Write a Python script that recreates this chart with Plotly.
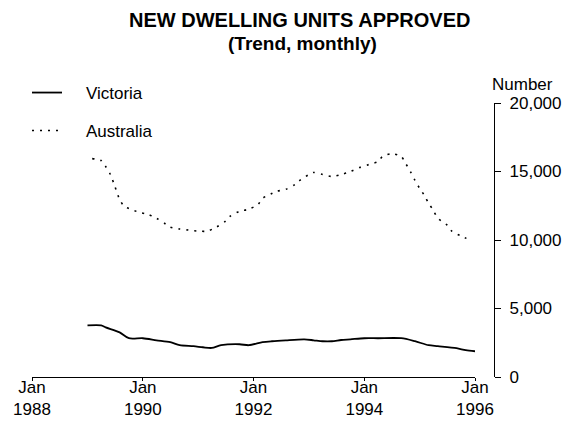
import plotly.graph_objects as go

# Australia (trend, monthly)
aus_dates = ["1989-02-01","1989-04-01","1989-05-01","1989-06-01","1989-07-01","1989-08-01",
             "1989-09-01","1989-11-01","1989-12-01","1990-02-01","1990-04-01","1990-06-01",
             "1990-07-01","1990-09-01","1990-11-01","1991-01-01","1991-03-01","1991-05-01",
             "1991-07-01","1991-08-01","1991-10-01","1991-12-01","1992-02-01","1992-03-01",
             "1992-05-01","1992-06-01","1992-08-01","1992-10-01","1992-11-01","1993-01-01",
             "1993-02-01","1993-04-01","1993-06-01","1993-08-01","1993-10-01","1993-12-01",
             "1994-02-01","1994-04-01","1994-05-01","1994-07-01","1994-09-01","1994-10-01",
             "1994-11-01","1994-12-01","1995-01-01","1995-02-01","1995-03-01","1995-04-01",
             "1995-05-01","1995-07-01","1995-08-01","1995-10-01","1995-12-01"]
aus_values = [15940,15800,15360,14780,13900,12970,
              12460,12170,12030,11880,11590,11160,
              10940,10800,10720,10650,10650,10940,
              11380,11740,12100,12250,12610,13040,
              13400,13550,13700,14060,14350,14780,
              14930,14780,14640,14780,15000,15290,
              15510,15720,16090,16300,16090,15580,
              15000,14350,13770,13260,12680,12170,
              11590,11090,10650,10290,10000]

# Victoria (trend, monthly)
vic_dates = ["1989-01-01","1989-04-01","1989-05-01","1989-08-01","1989-10-01","1990-01-01",
             "1990-04-01","1990-07-01","1990-09-01","1990-12-01","1991-02-01","1991-04-01",
             "1991-06-01","1991-10-01","1991-12-01","1992-03-01","1992-05-01","1992-08-01",
             "1992-12-01","1993-02-01","1993-04-01","1993-06-01","1993-08-01","1993-10-01",
             "1994-01-01","1994-04-01","1994-09-01","1994-12-01","1995-03-01","1995-05-01",
             "1995-09-01","1995-11-01","1996-01-01"]
vic_values = [3770,3770,3620,3260,2830,2830,
              2680,2540,2320,2250,2170,2120,
              2320,2390,2320,2540,2610,2680,
              2750,2680,2610,2610,2700,2750,
              2830,2830,2830,2610,2320,2250,
              2100,1960,1880]

x_tick_vals = ["1988-01-01","1990-01-01","1992-01-01","1994-01-01","1996-01-01"]
x_tick_text = ["Jan<br>1988","Jan<br>1990","Jan<br>1992","Jan<br>1994","Jan<br>1996"]
y_tick_vals = [0, 5000, 10000, 15000, 20000]
y_tick_text = ["0", "5,000", "10,000", "15,000", "20,000"]

FONT = "Liberation Sans, Arial, Helvetica, sans-serif"
# the page has an 8px body margin; work in page pixels and subtract it
OFF = 8
W, H = 571 - OFF, 425 - OFF
PLOT_L, PLOT_R, YAX, PLOT_T, PLOT_B = 32, 475, 494, 103, 377  # page px
ML = PLOT_L - OFF
MR = W - (YAX - OFF)
MT = PLOT_T - OFF
MB = H - (PLOT_B - OFF)
paper_w = W - ML - MR
paper_h = H - MT - MB
xdom_end = (PLOT_R - PLOT_L) / paper_w


def px_x(px):
    return (px - OFF - ML) / paper_w


def px_y(py):
    return 1 + (MT - (py - OFF)) / paper_h


PAD = "\u00a0\u00a0\u00a0\u00a0"

fig = go.Figure()
fig.add_trace(go.Scatter(
    x=vic_dates, y=vic_values, name=PAD + "Victoria", mode="lines",
    line=dict(color="black", width=1.8, shape="spline", smoothing=0.8),
    legend="legend"))
fig.add_trace(go.Scatter(
    x=aus_dates, y=aus_values, name=PAD + "Australia", mode="lines",
    line=dict(color="black", width=1.6, dash="2px,6px", shape="spline", smoothing=0.8),
    legend="legend2"))

leg_common = dict(font=dict(family=FONT, size=17, color="black"),
                  bgcolor="rgba(0,0,0,0)", borderwidth=0,
                  xanchor="left", yanchor="middle", itemwidth=30)

fig.update_layout(
    width=W, height=H,
    margin=dict(l=ML, r=MR, t=MT, b=MB, autoexpand=False),
    paper_bgcolor="white", plot_bgcolor="white",
    showlegend=True,
    legend=dict(x=px_x(27), y=px_y(93), **leg_common),
    legend2=dict(x=px_x(27), y=px_y(131), **leg_common),
    xaxis=dict(
        type="date", domain=[0, xdom_end],
        range=["1988-01-01", "1996-01-01"],
        tickmode="array", tickvals=x_tick_vals, ticktext=x_tick_text,
        ticks="outside", ticklen=3, tickwidth=1.2, tickcolor="black",
        ticklabelstandoff=-9,
        showline=True, linecolor="black", linewidth=1.2,
        showgrid=False, zeroline=False,
        tickfont=dict(family=FONT, size=17, color="black"),
    ),
    yaxis=dict(
        range=[0, 20000], side="right", anchor="free", position=1.0,
        tickmode="array", tickvals=y_tick_vals, ticktext=y_tick_text,
        ticks="outside", ticklen=6, tickwidth=1.2, tickcolor="black",
        ticklabelstandoff=5,
        showline=True, linecolor="black", linewidth=1.2,
        showgrid=False, zeroline=False,
        tickfont=dict(family=FONT, size=17, color="black"),
    ),
    annotations=[
        dict(text="<b>NEW DWELLING UNITS APPROVED</b>", xref="paper", yref="paper",
             x=px_x(299), y=px_y(20),
             xanchor="center", yanchor="middle", showarrow=False,
             font=dict(family=FONT, size=20, color="black")),
        dict(text="<b>(Trend, monthly)</b>", xref="paper", yref="paper",
             x=px_x(302), y=px_y(43),
             xanchor="center", yanchor="middle", showarrow=False,
             font=dict(family=FONT, size=19, color="black")),
        dict(text="Number", xref="paper", yref="paper",
             x=px_x(490), y=px_y(84),
             xanchor="left", yanchor="middle", showarrow=False,
             font=dict(family=FONT, size=17, color="black")),
    ],
)

fig.write_html("out.html")
